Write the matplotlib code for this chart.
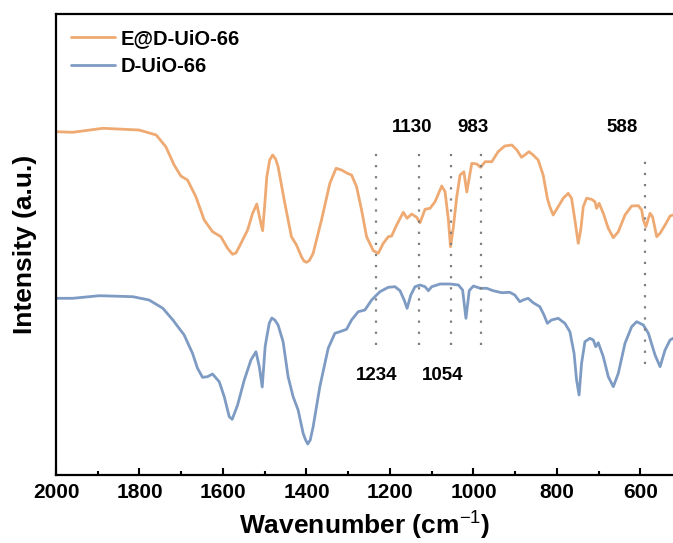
import numpy as np
import matplotlib
matplotlib.use("Agg")
import matplotlib.pyplot as plt
from matplotlib.ticker import MultipleLocator

# ---------------- data ----------------
wn_e = [2000, 1960, 1888, 1801, 1760, 1737, 1717, 1701, 1685, 1665, 1645, 1625, 1605, 1589,
        1577, 1569, 1561, 1541, 1529, 1519, 1511, 1505, 1500, 1495, 1488, 1481, 1474, 1468, 1452, 1436, 1424, 1412,
        1406, 1400, 1393, 1384, 1364, 1344, 1329, 1316, 1302, 1292, 1280, 1268, 1256, 1240, 1228, 1216,
        1204, 1196, 1184, 1168, 1159, 1148, 1136, 1128, 1116, 1104, 1092, 1076, 1068, 1060,
        1055, 1048, 1040, 1032, 1023, 1016, 1004, 992, 983, 972, 956, 941, 925, 908, 896,
        885, 877, 867, 857, 845, 833, 823, 817, 809, 797, 785, 773, 765, 757, 749, 743, 737,
        729, 717, 709, 705, 699, 689, 677, 665, 653, 637, 621, 605, 597, 593, 587, 577, 571,
        561, 553, 541, 529, 522]
int_e = [343.3, 342.7, 346.7, 345, 340, 328.3, 310, 299, 295, 278.3, 255, 243.3, 238.3, 226.7,
         220.7, 222, 228.3, 245, 261.7, 271, 255, 244.3, 270, 298.3, 315, 320, 316, 308.3, 272, 238.3, 230, 218.3,
         214, 212.7, 214.5, 221.7, 255, 291.7, 306.7, 305, 301.7, 300, 288.3, 265, 238.3, 224.3, 221.7, 231.7,
         238.3, 239, 250, 262.7, 256.7, 261, 257.7, 252.3, 265.7, 266.7, 273.3, 289, 283.3, 255,
         228.3, 248.3, 278.3, 300, 303.3, 283, 311.7, 311, 307.7, 313.3, 313.3, 323.3, 329, 330, 325,
         317.7, 320, 323.3, 320, 315, 300, 276.7, 268.3, 260, 268.3, 276.7, 281.7, 276.7, 255, 231.7, 245, 268.3,
         276.7, 275.7, 273.3, 266.7, 271.7, 261.7, 246.7, 237.3, 243.3, 260, 269, 269.3, 265, 255, 248.3, 261.7, 258.3,
         238.3, 241.7, 250, 259, 260]

wn_d = [2000, 1960, 1896, 1816, 1777, 1744, 1720, 1693, 1673, 1661, 1649, 1637, 1625, 1609,
        1597, 1585, 1578, 1565, 1549, 1533, 1521, 1513, 1506, 1499, 1495, 1489, 1483, 1476, 1468, 1456,
        1444, 1432, 1420, 1408, 1402, 1397, 1391, 1384, 1368, 1348, 1332, 1320, 1304, 1292, 1276, 1260,
        1244, 1224, 1204, 1188, 1176, 1166, 1159, 1150, 1140, 1128, 1116, 1108, 1100, 1080,
        1056, 1036, 1026, 1018, 1010, 1000, 984, 968, 953, 932, 913, 901, 889, 881, 869, 857,
        841, 831, 823, 813, 797, 781, 769, 759, 753, 747, 741, 733, 721, 713, 707, 701, 689,
        677, 665, 653, 637, 621, 609, 593, 581, 565, 553, 541, 529, 522]
int_d = [176.7, 176.7, 179.3, 178.3, 175, 166.7, 155, 140, 121.7, 106.7, 97.7, 98.3, 101, 93.3,
         78.3, 58.3, 55.7, 70, 95, 115, 123.3, 108.3, 88, 128.3, 138.3, 152, 157, 155, 150, 133.3,
         98.3, 78.3, 65, 41.7, 35, 31, 35, 48.3, 88.3, 126.7, 141.7, 143.3, 145.7, 155, 163.3, 165,
         175, 183.3, 187.7, 188.3, 184.3, 175, 166.7, 180, 188.3, 190, 188.3, 184.3, 188.3, 191,
         191, 190, 185, 156.7, 184.5, 189, 186.7, 186.7, 184.3, 182.3, 182.7, 180, 173.3, 175, 176.7, 172.3,
         168.3, 160, 151.7, 155, 156.7, 151.7, 143.3, 121.7, 95, 80, 111.7, 133.3, 136.7, 135, 128.3, 132.3, 118.3,
         98.3, 88.3, 101.7, 131.7, 148.3, 153.3, 150, 141.7, 120, 108.3, 125, 135, 136.7]

series_labels = ["E@D-UiO-66", "D-UiO-66"]
colors = ["#EEAA72", "#7E9BC4"]

top_marks = [1130, 983, 588]
bottom_marks = [1234, 1054]
marker_lines = [1234, 1130, 1054, 983, 588]

xticks = [2000, 1800, 1600, 1400, 1200, 1000, 800, 600]

# ---------------- figure ----------------
plt.rcParams['font.family'] = ['Liberation Sans', 'DejaVu Sans']
plt.rcParams['mathtext.fontset'] = 'custom'
plt.rcParams['mathtext.bf'] = 'Liberation Sans:bold'
plt.rcParams['mathtext.rm'] = 'Liberation Sans'
W, H = 673, 543
fig = plt.figure(figsize=(W / 100, H / 100), dpi=100)
ax = fig.add_axes([56 / W, 1 - 475 / H, (W - 56) / W, (475 - 14) / H])

ax.plot(wn_e, int_e, color=colors[0], lw=2.0, label=series_labels[0],
        solid_joinstyle='round', solid_capstyle='round')
ax.plot(wn_d, int_d, color=colors[1], lw=2.0, label=series_labels[1],
        solid_joinstyle='round', solid_capstyle='round')

ax.set_xlim(2000, 522)
ax.set_ylim(0, 461)

for w in marker_lines:
    if w == 588:
        y0, y1 = 111, 320
    else:
        y0, y1 = 130, 327
    ax.plot([w, w], [y0, y1], color="#7F7F7F", lw=1.6, linestyle=(0, (1, 4)))

top_pos = {1130: 1146, 983: 1002, 588: 643}
for w in top_marks:
    ax.text(top_pos[w], 348, str(w), ha='center', va='center', fontsize=13.5, fontweight='bold')
bot_pos = {1234: 1232, 1054: 1074}
for w in bottom_marks:
    ax.text(bot_pos[w], 99, str(w), ha='center', va='center', fontsize=13.5, fontweight='bold')

ax.set_xticks(xticks)
ax.set_xticklabels([str(t) for t in xticks])
ax.xaxis.set_minor_locator(MultipleLocator(100))
ax.tick_params(axis='x', which='major', direction='in', length=5, width=1.5,
               labelsize=15, pad=6)
ax.tick_params(axis='x', which='minor', direction='in', length=3, width=1.5)
for lab in ax.get_xticklabels():
    lab.set_fontweight('bold')
ax.set_yticks([])

for s in ['left', 'top', 'bottom']:
    ax.spines[s].set_linewidth(1.6)
ax.spines['right'].set_visible(False)

ax.set_xlabel("Wavenumber (cm$^{-1}$)", fontsize=19, fontweight='bold', labelpad=4)
ax.set_ylabel("Intensity (a.u.)", fontsize=19, fontweight='bold', labelpad=14)

leg = ax.legend(loc='upper left', bbox_to_anchor=(0.0, 1.0), frameon=False,
                handlelength=2.2, handletextpad=0.25, borderaxespad=0.0,
                borderpad=0.75, labelspacing=0.45,
                prop={'weight': 'bold', 'size': 14.5})
for ln in leg.get_lines():
    ln.set_linewidth(2.0)

fig.savefig("out.png", dpi=100)
